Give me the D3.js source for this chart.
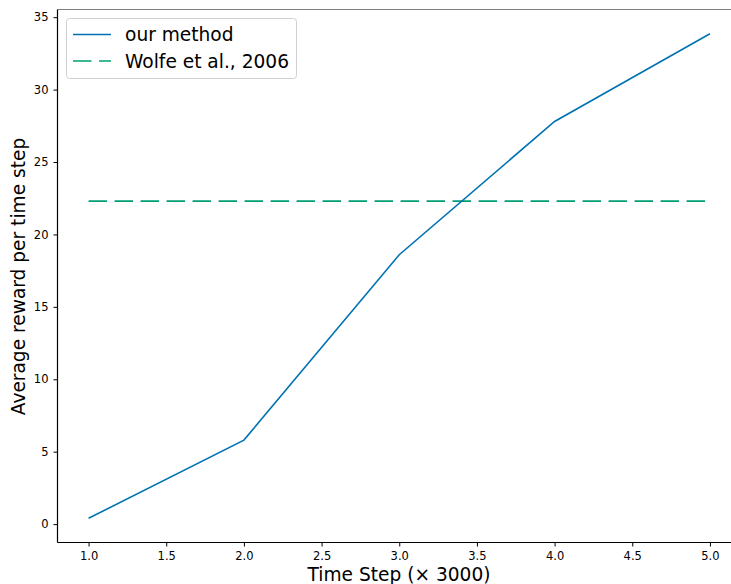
<!DOCTYPE html>
<html>
<head>
<meta charset="utf-8">
<script src="https://cdn.jsdelivr.net/npm/d3@7"></script>
<style>
  html, body { margin: 0; padding: 0; background: #fff; overflow: hidden; }
  svg { display: block; font-family: "DejaVu Sans", sans-serif; }
</style>
</head>
<body>
<script>
// ---- data ----
const timeSteps = [1, 2, 3, 4, 5];
const ourMethod = [0.4, 5.8, 18.6, 27.8, 33.86];
const wolfe2006 = [22.3, 22.3, 22.3, 22.3, 22.3];
const seriesNames = ["our method", "Wolfe et al., 2006"];
const xTicks = [1.0, 1.5, 2.0, 2.5, 3.0, 3.5, 4.0, 4.5, 5.0];
const yTicks = [0, 5, 10, 15, 20, 25, 30, 35];
const xLabel = "Time Step (\u00d7 3000)";
const yLabel = "Average reward per time step";

const W = 731, H = 584;
const svg = d3.select("body").append("svg").attr("width", W).attr("height", H);

const plotLeft = 57.5, plotRight = 741, plotTop = 9.5, plotBottom = 542.5;
const x = d3.scaleLinear().domain([0.8, 5.2]).range([plotLeft, plotRight]);
const y = d3.scaleLinear().domain([-1.27, 35.53]).range([plotBottom, plotTop]);

// spines
svg.append("line").attr("x1", plotLeft).attr("x2", plotRight).attr("y1", plotTop).attr("y2", plotTop)
  .attr("stroke", "#808080").attr("stroke-width", 1.2);
svg.append("line").attr("x1", plotRight).attr("x2", plotRight).attr("y1", plotTop).attr("y2", plotBottom)
  .attr("stroke", "#808080").attr("stroke-width", 1.2);

// axes
const xAxis = svg.append("g").attr("transform", `translate(0,${plotBottom})`)
  .call(d3.axisBottom(x).tickValues(xTicks).tickFormat(d3.format(".1f")).tickSizeOuter(0).tickSize(4).tickPadding(5));
const yAxis = svg.append("g").attr("transform", `translate(${plotLeft},0)`)
  .call(d3.axisLeft(y).tickValues(yTicks).tickFormat(d3.format("d")).tickSizeOuter(0).tickSize(4).tickPadding(5));
[xAxis, yAxis].forEach(a => {
  a.select(".domain").attr("stroke", "#000").attr("stroke-width", 1.2);
  a.selectAll(".tick line").attr("stroke", "#000").attr("stroke-width", 1);
  a.selectAll(".tick text").attr("font-family", "DejaVu Sans").attr("font-size", 11.5).attr("fill", "#000");
});
xAxis.select(".domain").attr("d", `M${plotLeft},0H${plotRight}`);
yAxis.select(".domain").attr("d", `M0,${plotTop}V${plotBottom}`);

// lines
const line = d3.line().x((d, i) => x(timeSteps[i])).y(d => y(d));
svg.append("path").datum(wolfe2006).attr("d", line)
  .attr("fill", "none").attr("stroke", "#009E73").attr("stroke-width", 1.6)
  .attr("stroke-dasharray", "18.5,7.5");
svg.append("path").datum(ourMethod).attr("d", line)
  .attr("fill", "none").attr("stroke", "#0072B2").attr("stroke-width", 1.6);

// axis labels
svg.append("text").attr("x", 399).attr("y", 581).attr("text-anchor", "middle")
  .attr("font-size", 18.6).attr("fill", "#000").text(xLabel);
svg.append("text").attr("transform", `translate(25,276.5) rotate(-90)`).attr("text-anchor", "middle")
  .attr("font-size", 18.6).attr("fill", "#000").text(yLabel);

// legend
const lg = svg.append("g");
lg.append("rect").attr("x", 66.5).attr("y", 18.5).attr("width", 230).attr("height", 60)
  .attr("rx", 3).attr("fill", "#fff").attr("fill-opacity", 0.8)
  .attr("stroke", "#d0d0d0").attr("stroke-width", 1);
const legendItems = [
  { name: seriesNames[0], color: "#0072B2", dash: null, yy: 34.5 },
  { name: seriesNames[1], color: "#009E73", dash: "18.5,7.5", yy: 61 }
];
legendItems.forEach(it => {
  const l = lg.append("line").attr("x1", 73).attr("x2", 111).attr("y1", it.yy).attr("y2", it.yy)
    .attr("stroke", it.color).attr("stroke-width", 1.6);
  if (it.dash) l.attr("stroke-dasharray", it.dash);
  lg.append("text").attr("x", 125).attr("y", it.yy).attr("dy", "0.35em")
    .attr("font-size", 18.6).attr("fill", "#000").text(it.name);
});
</script>
</body>
</html>
